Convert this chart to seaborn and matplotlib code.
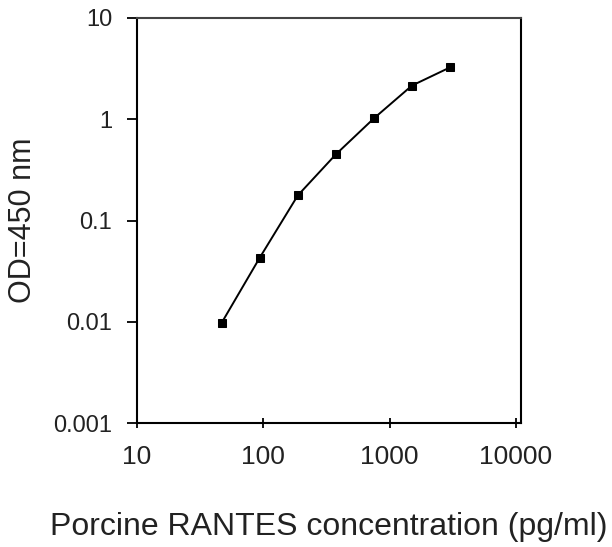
import pandas as pd
import matplotlib
matplotlib.use("Agg")
import matplotlib.pyplot as plt
import seaborn as sns
from matplotlib.ticker import FixedLocator, FixedFormatter, NullLocator

# standard curve values
concentration = [46.875, 93.75, 187.5, 375, 750, 1500, 3000]
od450 = [0.0098, 0.043, 0.177, 0.45, 1.02, 2.15, 3.25]

x_ticks = [10, 100, 1000, 10000]
x_tick_labels = ['10', '100', '1000', '10000']
y_ticks = [0.001, 0.01, 0.1, 1, 10]
y_tick_labels = ['0.001', '0.01', '0.1', '1', '10']

sns.set_style('white')
plt.rcParams['font.family'] = ['Liberation Sans', 'DejaVu Sans']

df = pd.DataFrame({'conc': concentration, 'od': od450})

fig = plt.figure(figsize=(6.12, 5.47), dpi=100)
ax = fig.add_axes([137 / 612, 1 - 423 / 547, (521 - 137) / 612, (423 - 18) / 547])

sns.lineplot(data=df, x='conc', y='od', ax=ax, color='black', linewidth=1.4,
             marker='s', markersize=6, markeredgecolor='black', markerfacecolor='black')

ax.set_xscale('log')
ax.set_yscale('log')
ax.set_xlim(10, 10950)
ax.set_ylim(0.001, 10)

ax.xaxis.set_major_locator(FixedLocator(x_ticks))
ax.xaxis.set_major_formatter(FixedFormatter(x_tick_labels))
ax.xaxis.set_minor_locator(NullLocator())
ax.yaxis.set_major_locator(FixedLocator(y_ticks))
ax.yaxis.set_major_formatter(FixedFormatter(y_tick_labels))
ax.yaxis.set_minor_locator(NullLocator())

ax.tick_params(axis='x', bottom=True, direction='inout', length=7, width=1.3,
               labelsize=19, pad=12, colors='black', labelcolor='#222222')
ax.tick_params(axis='y', left=True, direction='out', length=7, width=1.3,
               labelsize=17, pad=11, colors='black', labelcolor='#222222')

for side in ['left', 'right', 'top', 'bottom']:
    ax.spines[side].set_visible(True)
    ax.spines[side].set_color('black')
    ax.spines[side].set_linewidth(1.5)
ax.spines['top'].set_color('#444444')

ax.set_xlabel('')
ax.set_ylabel('')
fig.text(329 / 612, 1 - 527 / 547, 'Porcine RANTES concentration (pg/ml)',
         ha='center', va='center', fontsize=23, color='#222222')
fig.text(23 / 612, 1 - 220 / 547, 'OD=450 nm', rotation=90,
         ha='center', va='center', fontsize=22, color='#222222')

plt.savefig('out.png', dpi=100)
plt.close()
